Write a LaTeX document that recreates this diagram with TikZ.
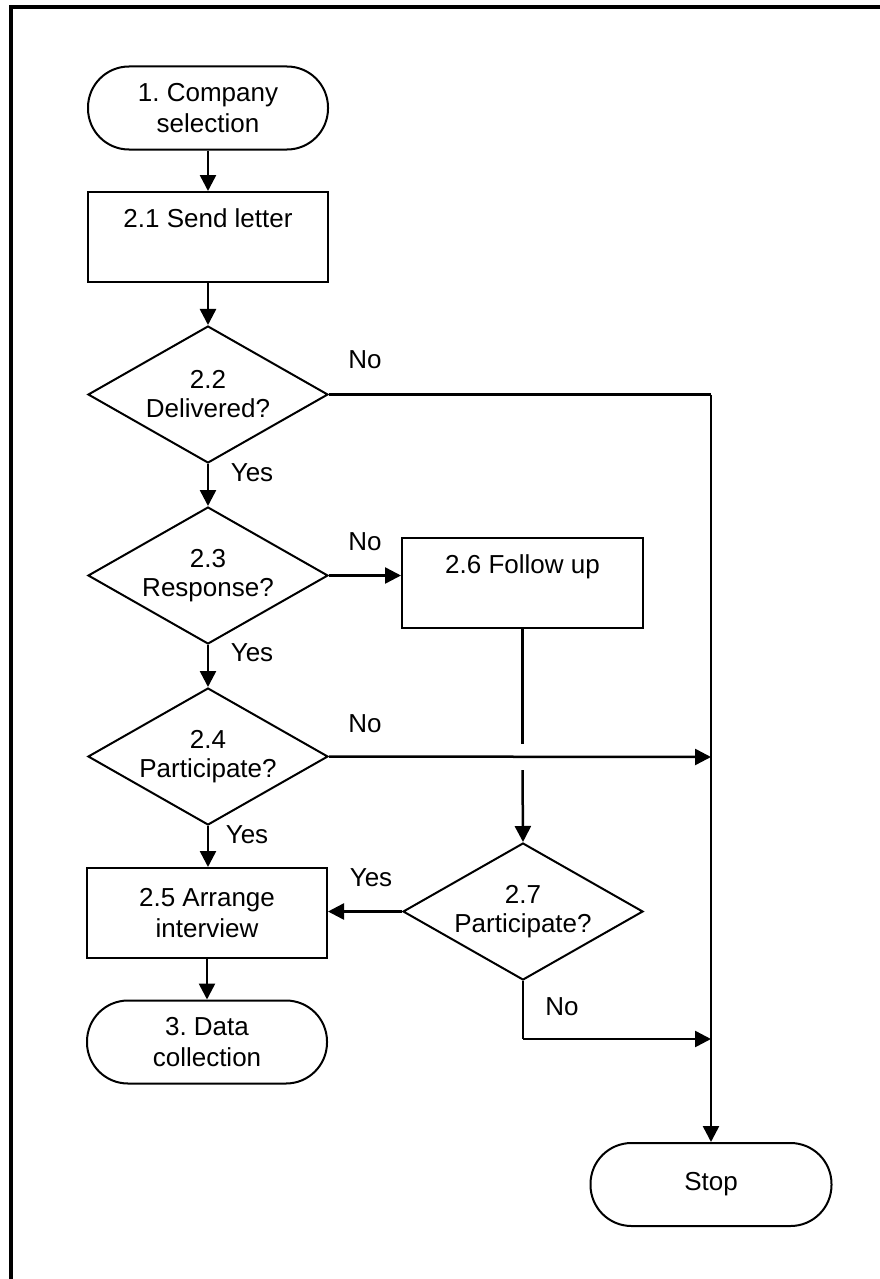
\documentclass[tikz,border=0pt]{standalone}
\usepackage{fontspec}
\setmainfont{Liberation Sans}
\frenchspacing
\usetikzlibrary{shapes.geometric,arrows.meta}
\begin{document}
\begin{tikzpicture}[x=1pt,y=-1pt,
  every node/.style={font=\fontsize{26}{31}\selectfont},
  nodeline/.style={draw=black,line width=2pt},
  terminal/.style={nodeline,rectangle,rounded corners=41pt,minimum width=240pt,minimum height=83pt,align=center,inner sep=0pt},
  procbox/.style={nodeline,rectangle,minimum width=240pt,minimum height=90pt,align=center,inner sep=0pt},
  decision/.style={nodeline,diamond,minimum width=240pt,minimum height=137pt,inner sep=0pt},
  dtext/.style={label={[align=center,inner sep=0pt,font=\fontsize{26}{29}\selectfont]center:#1}},
  conn/.style={line width=2.5pt},
  arr/.style={conn,-{Triangle[length=16pt,width=16pt]}},
  lbl/.style={inner sep=0pt}
]
\clip (0,0) rectangle (880,1279);
\draw[line width=4.5pt] (11,7) rectangle (900,1300);

\node[terminal] (start) at (208,108) {1. Company\\selection};
\node[procbox] (s21) at (208,237) {\strut 2.1 Send letter\\\strut};
\node[decision,dtext={2.2\\Delivered?}] (d22) at (208,394.5) {};
\node[decision,dtext={2.3\\Response?}] (d23) at (208,575.5) {};
\node[decision,dtext={2.4\\Participate?}] (d24) at (208,756.5) {};
\node[procbox] (s25) at (207,913) {2.5 Arrange\\interview};
\node[terminal] (end3) at (207,1042) {3. Data\\collection};
\node[procbox,minimum width=241pt] (s26) at (522.5,583) {\strut 2.6 Follow up\\\strut};
\node[decision,dtext={2.7\\Participate?}] (d27) at (523,911.5) {};
\node[terminal,minimum width=241pt] (stop) at (711,1184.5) {Stop};

\coordinate (j1) at (711,394.5);
\coordinate (j2) at (711,757);
\coordinate (j3) at (711,1039);
\coordinate (gapA) at (523,744);
\coordinate (gapB) at (523,770);

\draw[arr] (start) -- (s21);
\draw[arr] (s21) -- (d22);
\draw[arr] (d22) -- (d23);
\draw[arr] (d23) -- (d24);
\draw[arr] (d24) -- (d24.south |- s25.north);
\draw[arr] (s25.south -| end3.north) -- (end3.north);
\draw[arr] (d23.east) -- (d23.east -| s26.west);
\draw[conn] (s26.south) -- (s26.south |- gapA);
\draw[arr] (s26.south |- gapB) -- (d27.north);
\draw[arr] (d27.west) -- (d27.west -| s25.east);
\draw[arr] (d24.east) -- (j2);
\draw[conn] (d27.south) -- (d27.south |- j3);
\draw[arr] (d27.south |- j3) -- (j3);
\draw[conn] (d22.east) -- (j1);
\draw[arr] (j1) -- (stop.north);

\node[lbl] (no22) at (365,360) {No};
\node[lbl] (yes22) at (252,473) {Yes};
\node[lbl] (no23) at (365,542) {No};
\node[lbl] (yes23) at (252,653) {Yes};
\node[lbl] (no24) at (365,724) {No};
\node[lbl] (yes24) at (247,835) {Yes};
\node[lbl] (yes27) at (371,878) {Yes};
\node[lbl] (no27) at (562,1007) {No};
\end{tikzpicture}
\end{document}
